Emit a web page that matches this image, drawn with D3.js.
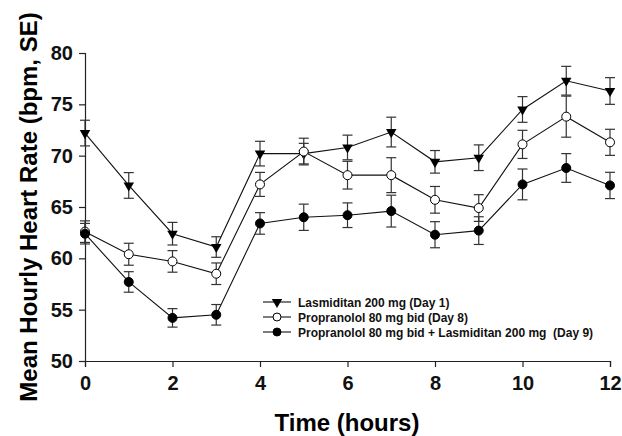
<!DOCTYPE html>
<html>
<head>
<meta charset="utf-8">
<title>Mean Hourly Heart Rate</title>
<script src="https://cdn.jsdelivr.net/npm/d3@7"></script>
<style>
  body { margin: 0; background: #fff; }
  text { font-family: "Liberation Sans", Arial, sans-serif; font-weight: bold; }
</style>
</head>
<body>
<script>
var hours = [0, 1, 2, 3, 4, 5, 6, 7, 8, 9, 10, 11, 12];

var lasmiditan = [72.2, 67.1, 62.4, 61.1, 70.2, 70.2, 70.8, 72.3, 69.4, 69.8, 74.5, 77.3, 76.3];
var lasmiditanSE = [1.25, 1.25, 1.1, 1.0, 1.2, 1.0, 1.2, 1.45, 1.1, 1.25, 1.25, 1.4, 1.3];

var propranolol = [62.6, 60.4, 59.7, 58.5, 67.2, 70.4, 68.1, 68.1, 65.7, 64.9, 71.1, 73.8, 71.3];
var propranololSE = [1.05, 1.07, 1.05, 1.05, 1.17, 1.3, 1.35, 1.7, 1.3, 1.3, 1.37, 2.0, 1.27];

var combo = [62.4, 57.7, 54.2, 54.5, 63.4, 64.0, 64.2, 64.6, 62.3, 62.7, 67.2, 68.8, 67.1];
var comboSE = [1.0, 1.0, 0.9, 1.0, 1.05, 1.28, 1.2, 1.55, 1.27, 1.35, 1.5, 1.4, 1.28];

var seriesNames = [
  "Lasmiditan 200 mg (Day 1)",
  "Propranolol 80 mg bid (Day 8)",
  "Propranolol 80 mg bid + Lasmiditan 200 mg  (Day 9)"
];

var xTicks = [0, 2, 4, 6, 8, 10, 12];
var yTicks = [50, 55, 60, 65, 70, 75, 80];

var w = 622, h = 436;
var svg = d3.select("body").append("svg").attr("width", w).attr("height", h);

var x = d3.scaleLinear().domain([0, 12]).range([85, 610]);
var y = d3.scaleLinear().domain([50, 80]).range([361, 53]);

// axes
var xAxis = svg.append("g")
    .attr("transform", "translate(0," + y(50) + ")")
    .call(d3.axisBottom(x).tickValues(xTicks).tickSize(6).tickPadding(9).tickFormat(d3.format("d")));
var yAxis = svg.append("g")
    .attr("transform", "translate(" + x(0) + ",0)")
    .call(d3.axisLeft(y).tickValues(yTicks).tickSize(6).tickPadding(6).tickFormat(d3.format("d")));

[xAxis, yAxis].forEach(function (a) {
  a.select(".domain").attr("stroke", "#222").attr("stroke-width", 1.2);
  a.selectAll(".tick line").attr("stroke", "#222").attr("stroke-width", 1.2);
  a.selectAll(".tick text").attr("fill", "#111").style("font-size", "20px");
});

// axis titles
svg.append("text")
    .attr("x", 347).attr("y", 431)
    .attr("text-anchor", "middle")
    .style("font-size", "24px")
    .text("Time (hours)");
svg.append("text")
    .attr("transform", "translate(37,207) rotate(-90)")
    .attr("text-anchor", "middle")
    .style("font-size", "24px")
    .text("Mean Hourly Heart Rate (bpm, SE)");

var series = [
  { name: seriesNames[0], vals: lasmiditan, se: lasmiditanSE, type: "tri" },
  { name: seriesNames[1], vals: propranolol, se: propranololSE, type: "open" },
  { name: seriesNames[2], vals: combo, se: comboSE, type: "filled" }
];

var line = d3.line()
    .x(function (d, i) { return x(hours[i]); })
    .y(function (d) { return y(d); });

var tri = d3.symbol().type(d3.symbolTriangle).size(48);

function drawMarker(g, type, cx, cy, r) {
  if (type === "tri") {
    g.append("path")
        .attr("d", tri())
        .attr("transform", "translate(" + cx + "," + cy + ") rotate(180)")
        .attr("fill", "#000");
  } else {
    g.append("circle")
        .attr("cx", cx).attr("cy", cy).attr("r", r)
        .attr("fill", type === "open" ? "#fff" : "#000")
        .attr("stroke", "#000").attr("stroke-width", 1);
  }
}

series.forEach(function (s) {
  var g = svg.append("g");
  g.append("path")
      .attr("d", line(s.vals))
      .attr("fill", "none")
      .attr("stroke", "#111")
      .attr("stroke-width", 1.1);

  s.vals.forEach(function (v, i) {
    var cx = x(hours[i]);
    var top = y(v + s.se[i]), bot = y(v - s.se[i]);
    g.append("line").attr("x1", cx).attr("x2", cx).attr("y1", top).attr("y2", bot)
        .attr("stroke", "#333").attr("stroke-width", 1.2);
    [top, bot].forEach(function (yy) {
      g.append("line").attr("x1", cx - 5).attr("x2", cx + 5).attr("y1", yy).attr("y2", yy)
          .attr("stroke", "#333").attr("stroke-width", 1.2);
    });
  });

  s.vals.forEach(function (v, i) {
    drawMarker(g, s.type, x(hours[i]), y(v), 4.5);
  });
});

// legend
var legend = svg.append("g");
series.forEach(function (s, i) {
  var ly = 302 + i * 15;
  legend.append("line")
      .attr("x1", 263).attr("x2", 291).attr("y1", ly).attr("y2", ly)
      .attr("stroke", "#111").attr("stroke-width", 1.1);
  drawMarker(legend, s.type, 277, ly, 4);
  legend.append("text")
      .attr("x", 298).attr("y", ly + 4.5)
      .attr("fill", "#111")
      .style("font-size", "12px")
      .style("white-space", "pre")
      .text(s.name);
});
</script>
</body>
</html>
